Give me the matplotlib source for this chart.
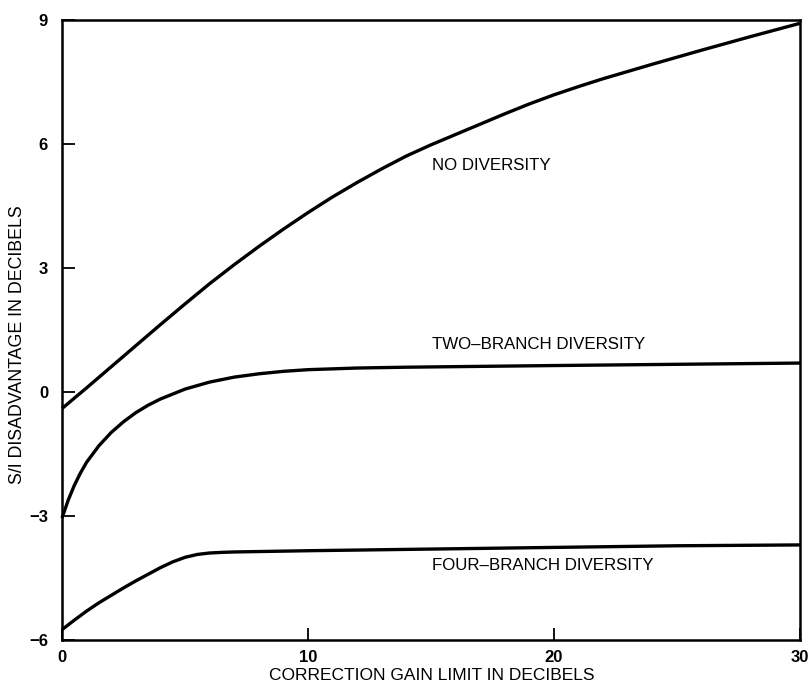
import matplotlib
matplotlib.use("Agg")
import matplotlib.pyplot as plt

# Correction gain limit (dB) and S/I disadvantage (dB) for each receiver case
gain_none = [0, 1, 2, 3, 4, 5, 6, 7, 8, 9, 10, 11, 12, 13, 14, 15, 16, 17,
             18, 19, 20, 21, 22, 24, 26, 28, 30]
si_none = [-0.4, 0.1, 0.61, 1.12, 1.63, 2.13, 2.62, 3.08, 3.52, 3.94, 4.34,
           4.72, 5.07, 5.4, 5.71, 5.98, 6.23, 6.48, 6.73, 6.97, 7.19, 7.39,
           7.58, 7.93, 8.27, 8.6, 8.92]

gain_two = [0, 0.25, 0.5, 0.75, 1, 1.5, 2, 2.5, 3, 3.5, 4, 5, 6, 7, 8, 9, 10,
            12, 14, 17, 20, 25, 30]
si_two = [-3.05, -2.62, -2.26, -1.96, -1.7, -1.3, -0.98, -0.72, -0.5, -0.32,
          -0.17, 0.07, 0.24, 0.36, 0.44, 0.5, 0.54, 0.58, 0.6, 0.62, 0.64,
          0.67, 0.7]

gain_four = [0, 0.5, 1, 1.5, 2, 2.5, 3, 3.5, 4, 4.5, 5, 5.5, 6, 6.5, 7, 8,
             10, 15, 20, 25, 30]
si_four = [-5.75, -5.52, -5.3, -5.1, -4.92, -4.74, -4.57, -4.41, -4.25,
           -4.11, -4.0, -3.93, -3.895, -3.88, -3.87, -3.86, -3.84, -3.8,
           -3.76, -3.72, -3.7]

curve_labels = ["NO DIVERSITY", "TWO\u2013BRANCH DIVERSITY", "FOUR\u2013BRANCH DIVERSITY"]
x_ticks = [0, 10, 20, 30]
y_ticks = [-6, -3, 0, 3, 6, 9]
y_tick_labels = ["\u22126", "\u22123", "0", "3", "6", "9"]

plt.rcParams["font.family"] = ["Liberation Sans", "DejaVu Sans"]

fig = plt.figure(figsize=(8.12, 6.83), dpi=100)
ax = fig.add_axes([62 / 812, 1 - 640 / 683, 738 / 812, 620 / 683])

for xs, ys in [(gain_none, si_none), (gain_two, si_two), (gain_four, si_four)]:
    ax.plot(xs, ys, color="black", lw=2.4, solid_joinstyle="round",
            solid_capstyle="butt", clip_on=False)

ax.set_xlim(0, 30)
ax.set_ylim(-6, 9)
ax.set_xticks(x_ticks)
ax.set_xticklabels([str(t) for t in x_ticks], fontsize=12, fontweight="bold")
ax.set_yticks(y_ticks)
ax.set_yticklabels(y_tick_labels, fontsize=12, fontweight="bold")
ax.tick_params(axis="both", direction="in", length=9, width=1.3)
ax.tick_params(axis="y", pad=10)
ax.tick_params(axis="x", pad=7)

for sp in ax.spines.values():
    sp.set_linewidth(1.8)

# Axis titles placed in figure coordinates
fig.text(432 / 812, 1 - 676 / 683, "CORRECTION GAIN LIMIT IN DECIBELS",
         fontsize=12.5, ha="center", va="center")
fig.text(18 / 812, 1 - 345 / 683, "S/I DISADVANTAGE IN DECIBELS",
         fontsize=12.8, ha="center", va="center", rotation=90)

ax.text(15.05, 5.48, curve_labels[0], fontsize=12.2, ha="left", va="center")
ax.text(15.05, 1.15, curve_labels[1], fontsize=12.2, ha="left", va="center")
ax.text(15.05, -4.2, curve_labels[2], fontsize=12.2, ha="left", va="center")

fig.savefig("out.png", dpi=100, facecolor="white")
